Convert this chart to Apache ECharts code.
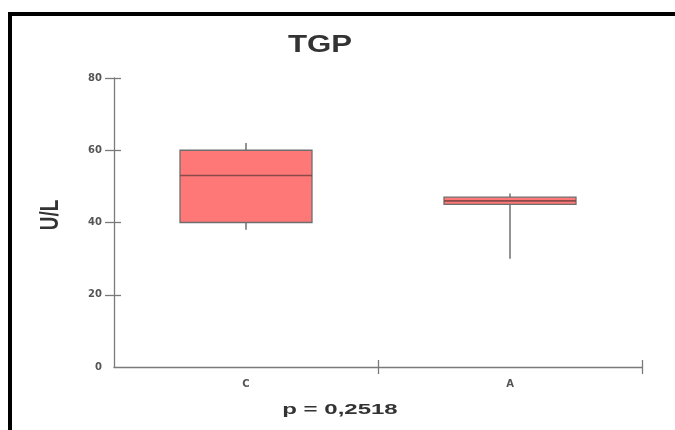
<!DOCTYPE html>
<html>
<head>
<meta charset="utf-8">
<script src="https://cdn.jsdelivr.net/npm/echarts@6/dist/echarts.min.js"></script>
<style>
  html, body { margin: 0; padding: 0; background: #ffffff; }
  #chart { width: 675px; height: 430px; }
</style>
</head>
<body>
<div id="chart"></div>
<script>
// Groups on the horizontal axis
const groups = ['C', 'A'];
// Five-number summaries per group (U/L)
const lowerWhisker = [38, 30];
const firstQuartile = [40, 45];
const medians = [53, 46];
const thirdQuartile = [60, 47];
const upperWhisker = [62, 48];
// Vertical axis ticks
const yTicks = [0, 20, 40, 60, 80];
// Texts
const chartTitle = 'TGP';
const unitLabel = 'U/L';
const pValueText = 'p = 0,2518';

const boxData = groups.map((g, i) => [
  i, lowerWhisker[i], firstQuartile[i], medians[i], thirdQuartile[i], upperWhisker[i]
]);

const axisGray = '#7a7a7a';
const yMin = yTicks[0];
const yMax = yTicks[yTicks.length - 1];
const yStep = yTicks[1] - yTicks[0];
const groupBounds = groups.map((g, i) => i + 0.5);

const chart = echarts.init(document.getElementById('chart'), null, { renderer: 'canvas' });

chart.setOption({
  animation: false,
  backgroundColor: '#ffffff',
  grid: { left: 114, right: 33, top: 78, bottom: 63 },
  xAxis: [
    {
      type: 'category',
      data: groups,
      boundaryGap: true,
      axisLine: { onZero: false, lineStyle: { color: axisGray, width: 1.3 } },
      axisTick: { show: false },
      axisLabel: {
        color: '#555', fontFamily: 'DejaVu Sans', fontWeight: 'bold', fontSize: 10, margin: 12
      },
      splitLine: { show: false }
    },
    {
      // tick marks below the baseline at the group boundaries
      type: 'value', min: -0.5, max: groups.length - 0.5, position: 'bottom',
      axisLine: { show: false, onZero: false },
      axisLabel: { show: false },
      splitLine: { show: false },
      axisTick: { show: true, length: 7, customValues: groupBounds, lineStyle: { color: axisGray, width: 1.3 } }
    },
    {
      // tick marks above the baseline at the group boundaries
      type: 'value', min: -0.5, max: groups.length - 0.5, position: 'bottom',
      axisLine: { show: false, onZero: false },
      axisLabel: { show: false },
      splitLine: { show: false },
      axisTick: { show: true, inside: true, length: 7, customValues: groupBounds, lineStyle: { color: axisGray, width: 1.3 } }
    }
  ],
  yAxis: [
    {
      type: 'value', min: yMin, max: yMax, interval: yStep, position: 'left',
      axisLine: { show: true, onZero: false, lineStyle: { color: axisGray, width: 1.3 } },
      axisTick: { show: true, length: 9, customValues: yTicks.slice(1), lineStyle: { color: axisGray, width: 1.3 } },
      axisLabel: {
        color: '#555', fontFamily: 'DejaVu Sans', fontWeight: 'bold', fontSize: 10, margin: 12
      },
      splitLine: { show: false }
    },
    {
      type: 'value', min: yMin, max: yMax, interval: yStep, position: 'left',
      axisLine: { show: false, onZero: false },
      axisLabel: { show: false },
      splitLine: { show: false },
      axisTick: { show: true, inside: true, length: 7, customValues: yTicks.slice(1), lineStyle: { color: axisGray, width: 1.3 } }
    }
  ],
  series: [
    {
      type: 'custom',
      xAxisIndex: 0,
      yAxisIndex: 0,
      data: boxData,
      encode: { x: 0, y: [1, 2, 3, 4, 5] },
      renderItem: function (params, api) {
        const i = api.value(0);
        const pMin = api.coord([i, api.value(1)]);
        const pQ1 = api.coord([i, api.value(2)]);
        const pMed = api.coord([i, api.value(3)]);
        const pQ3 = api.coord([i, api.value(4)]);
        const pMax = api.coord([i, api.value(5)]);
        const half = api.size([1, 0])[0] * 0.25;
        const cx = pMed[0];
        const whisker = { stroke: '#666666', lineWidth: 1.4 };
        return {
          type: 'group',
          children: [
            { type: 'line', shape: { x1: cx, y1: pMax[1], x2: cx, y2: pQ3[1] }, style: whisker },
            { type: 'line', shape: { x1: cx, y1: pQ1[1], x2: cx, y2: pMin[1] }, style: whisker },
            {
              type: 'rect',
              shape: { x: cx - half, y: pQ3[1], width: half * 2, height: pQ1[1] - pQ3[1] },
              style: { fill: '#ff7878', stroke: '#6e6e6e', lineWidth: 1.3 }
            },
            {
              type: 'line',
              shape: { x1: cx - half, y1: pMed[1], x2: cx + half, y2: pMed[1] },
              style: { stroke: '#8a4a4a', lineWidth: 1.6 }
            }
          ]
        };
      }
    }
  ],
  graphic: [
    // heavy frame along the top and left edges
    { type: 'rect', shape: { x: 8, y: 12, width: 667, height: 4 }, style: { fill: '#000' }, z: 100 },
    { type: 'rect', shape: { x: 8, y: 12, width: 4, height: 418 }, style: { fill: '#000' }, z: 100 },
    {
      type: 'text', x: 320, y: 45, scaleX: 1.3,
      style: {
        text: chartTitle, font: 'bold 24px "Liberation Sans", Arial, sans-serif', fill: '#333',
        textAlign: 'center', textVerticalAlign: 'middle', align: 'center', verticalAlign: 'middle'
      }
    },
    {
      type: 'text', x: 51, y: 215, rotation: Math.PI / 2, scaleY: 1.4,
      style: {
        text: unitLabel, font: 'bold 19px "Liberation Sans", Arial, sans-serif', fill: '#333',
        textAlign: 'center', textVerticalAlign: 'middle', align: 'center', verticalAlign: 'middle'
      }
    },
    {
      type: 'text', x: 340, y: 410, scaleX: 1.6,
      style: {
        text: pValueText, font: 'bold 15px "Liberation Sans", Arial, sans-serif', fill: '#333',
        textAlign: 'center', textVerticalAlign: 'middle', align: 'center', verticalAlign: 'middle'
      }
    }
  ]
});
</script>
</body>
</html>
